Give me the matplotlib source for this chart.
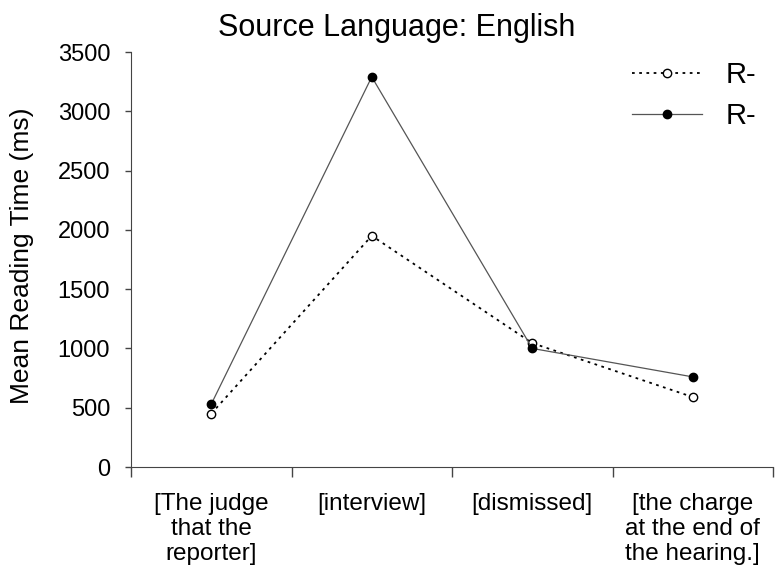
import matplotlib
matplotlib.use("Agg")
import matplotlib.pyplot as plt
import numpy as np

plt.rcParams['font.family'] = ['Liberation Sans', 'DejaVu Sans']

categories = ["[The judge\nthat the\nreporter]", "[interview]", "[dismissed]", "[the charge\nat the end of\nthe hearing.]"]
series_open = [450, 1950, 1045, 590]
series_filled = [530, 3290, 1000, 760]
labels = ["R-", "R-"]

W, H = 777, 588
fig = plt.figure(figsize=(W / 100, H / 100), dpi=100)
ax = fig.add_axes([131 / W, 1 - 467 / H, (773 - 131) / W, (467 - 52) / H])

x = np.arange(len(categories))
ax.plot(x, series_open, linestyle=(0, (1.5, 2.5)), color='black', lw=1.3,
        marker='o', markerfacecolor='white', markeredgecolor='black', markersize=6, label=labels[0])
ax.plot(x, series_filled, linestyle='-', color='#555555', lw=0.9,
        marker='o', markerfacecolor='black', markeredgecolor='black', markersize=6, label=labels[1])

ax.set_xlim(-0.5, len(categories) - 0.5)
ax.set_ylim(0, 3500)
ax.set_yticks(np.arange(0, 3501, 500))
ax.tick_params(axis='y', labelsize=17, direction='out', length=4, width=1, pad=11, color='#444444')
ax.set_xticks(np.arange(-0.5, len(categories), 1.0))
ax.set_xticklabels([])
ax.tick_params(axis='x', direction='out', length=7, width=1, color='#444444')
for i, c in enumerate(categories):
    ax.text(i, -0.062, c, transform=ax.get_xaxis_transform(), ha='center', va='top',
            fontsize=17.5, linespacing=1.17)

for s in ['top', 'right']:
    ax.spines[s].set_visible(False)
for s in ['left', 'bottom']:
    ax.spines[s].set_color('#444444')

fig.text(22 / W, 1 - 256 / H, "Mean Reading Time (ms)", rotation=90, ha='center', va='center', fontsize=19)
fig.text(397 / W, 1 - 36 / H, "Source Language: English", ha='center', va='baseline', fontsize=22)

ax.legend(loc='upper left', frameon=False, fontsize=21, handlelength=2.4, handletextpad=0.8,
          bbox_to_anchor=(632 / W, 1 - 61 / H), bbox_transform=fig.transFigure,
          borderpad=0, borderaxespad=0, labelspacing=0.45)

fig.savefig("out.png", dpi=100)
